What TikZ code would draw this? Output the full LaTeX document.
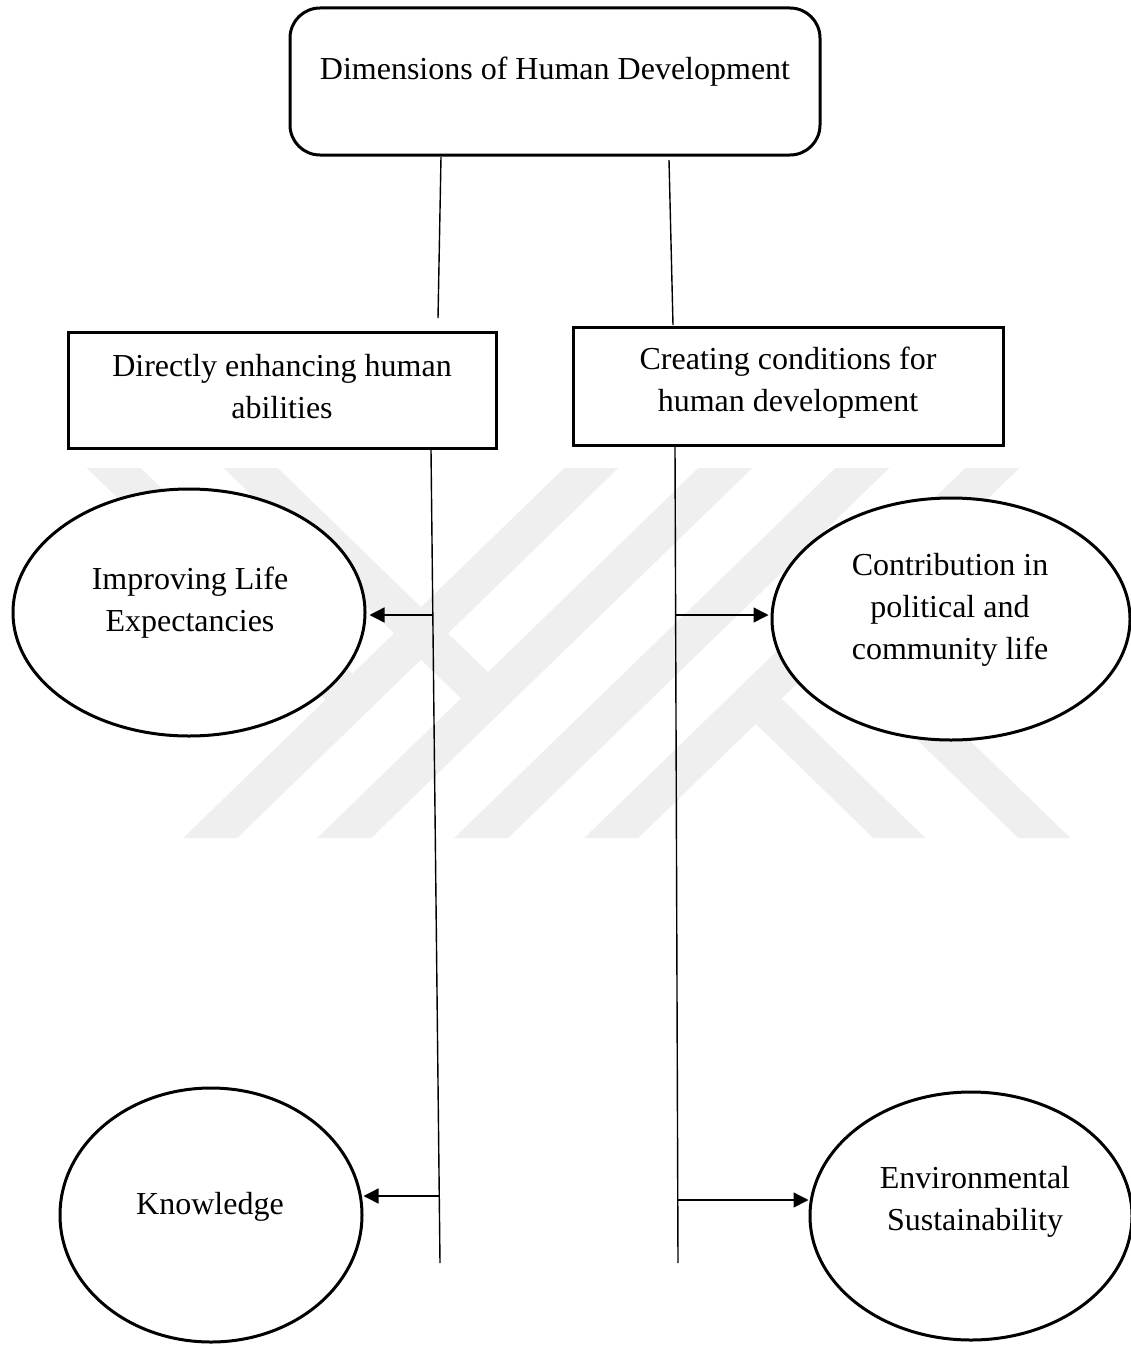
\documentclass[tikz,border=0pt]{standalone}
\usepackage{fontspec}
\setmainfont{Liberation Serif}
\usetikzlibrary{shapes.geometric,arrows.meta}
\definecolor{wm}{RGB}{239,239,239}
\begin{document}
\begin{tikzpicture}[x=1pt,y=-1pt,
  shapeline/.style={draw=black,line width=3pt,fill=white},
  rbox/.style={shapeline,rounded corners=30pt,inner sep=0pt},
  sbox/.style={shapeline,inner sep=0pt},
  oval/.style={shapeline,ellipse,inner sep=0pt},
  lbl/.style={font=\fontsize{32}{42}\selectfont,align=center,inner sep=0pt},
  conn/.style={draw=black,line width=1.4pt},
  arr/.style={conn,-{Triangle[length=15pt,width=15pt]}},
  wmark/.style={fill=wm,draw=none}]
\useasboundingbox (0,0) rectangle (1131,1346);
\fill[white] (0,0) rectangle (1131,1346);

% watermark
\fill[wmark] (564.3,468) -- (618.3,468) -- (237.2,838) -- (183.2,838) -- cycle;
\fill[wmark] (698.3,468) -- (752.3,468) -- (371.2,838) -- (317.2,838) -- cycle;
\fill[wmark] (835.3,468) -- (889.3,468) -- (508.2,838) -- (454.2,838) -- cycle;
\fill[wmark] (965.3,468) -- (1019.3,468) -- (638.2,838) -- (584.2,838) -- cycle;
\fill[wmark] (86.7,468) -- (140.7,468) -- (352.5,673.7) -- (325.5,699.9) -- cycle;
\fill[wmark] (223.7,468) -- (277.7,468) -- (488.0,672.2) -- (461.0,698.4) -- cycle;
\fill[wmark] (873.3,838) -- (925.3,838) -- (781.8,698.7) -- (755.8,723.9) -- cycle;
\fill[wmark] (1018.3,838) -- (1070.3,838) -- (854.3,628.3) -- (828.2,653.5) -- cycle;

% shapes
\node[rbox, minimum width=530pt, minimum height=147pt] (top) at (555,81.5) {};
\node[sbox, minimum width=428pt, minimum height=116pt] (left) at (282,390.5) {};
\node[sbox, minimum width=430pt, minimum height=118pt] (right) at (788.5,386) {};
\node[oval, minimum width=352pt, minimum height=247pt] (e1) at (189,612.5) {};
\node[oval, minimum width=358pt, minimum height=242pt] (e2) at (951,619) {};
\node[oval, minimum width=302pt, minimum height=254pt] (e3) at (211,1215) {};
\node[oval, minimum width=322pt, minimum height=248pt] (e4) at (971,1216) {};

% texts
\node[lbl] (ttop) at (555,72) {Dimensions of Human Development};
\node[lbl] (tleft) at (282,387) {Directly enhancing human\\abilities};
\node[lbl] (tright) at (788,383) {Creating conditions for\\human development};
\node[lbl] (te1) at (190,603) {Improving Life\\Expectancies};
\node[lbl] (te2) at (950,610) {Contribution in\\political and\\community life};
\node[lbl] (te3) at (210,1207) {Knowledge};
\node[lbl] (te4) at (975,1202) {Environmental\\Sustainability};

% connector coordinates
\coordinate (u1a) at (441,157);
\coordinate (u1b) at (438,318);
\coordinate (u2a) at (669,160);
\coordinate (u2b) at (673,325);
\coordinate (v1a) at (431,450);
\coordinate (v1b) at (440,1263);
\coordinate (v2a) at (675,447);
\coordinate (v2b) at (678,1263);
\coordinate (a1) at (432.8,615);
\coordinate (a2) at (675.6,615);
\coordinate (a3) at (439.3,1196);
\coordinate (a4) at (677.8,1200);

\draw[conn] (u1a) -- (u1b);
\draw[conn] (u2a) -- (u2b);
\draw[conn] (v1a) -- (v1b);
\draw[conn] (v2a) -- (v2b);

\draw[arr, shorten >=3pt] (a1) -- (a1 -| e1.east);
\draw[arr, shorten >=2pt] (a2) -- (a2 -| e2.west);
\draw[arr] (a3) -- (a3 -| e3.east);
\draw[arr] (a4) -- (a4 -| e4.west);
\end{tikzpicture}
\end{document}
